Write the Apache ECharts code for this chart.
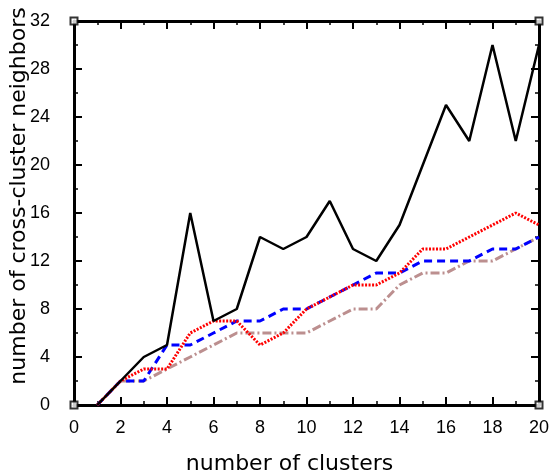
<!DOCTYPE html>
<html>
<head>
<meta charset="utf-8">
<script src="https://cdn.jsdelivr.net/npm/echarts@6/dist/echarts.min.js"></script>
<style>html,body{margin:0;padding:0;background:#fff;}#c{width:551px;height:476px;}</style>
</head>
<body>
<div id="c"></div>
<script>
var xs = [1,2,3,4,5,6,7,8,9,10,11,12,13,14,15,16,17,18,19,20];
var blackVals = [0,2,4,5,16,7,8,14,13,14,17,13,12,15,20,25,22,30,22,30];
var redVals   = [0,2,3,3,6,7,7,5,6,8,9,10,10,11,13,13,14,15,16,15];
var blueVals  = [0,2,2,5,5,6,7,7,8,8,9,10,11,11,12,12,12,13,13,14];
var brownVals = [0,2,2,3,4,5,6,6,6,6,7,8,8,10,11,11,12,12,13,14];
var xTitle = 'number of clusters';
var yTitle = 'number of cross-cluster neighbors';

function pairs(v){ return xs.map(function(x,i){ return [x, v[i]]; }); }

var tickFont = {fontFamily:'Liberation Sans Narrow, Liberation Sans, sans-serif', fontSize:18, color:'#000'};
var chart = echarts.init(document.getElementById('c'));
var axisCommon = {
  axisLine:{show:true, onZero:false, lineStyle:{color:'#000', width:3}},
  axisTick:{show:true, inside:true, length:8, lineStyle:{color:'#000', width:2}},
  minorTick:{show:true, splitNumber:2, length:4, lineStyle:{color:'#000', width:1.5}},
  splitLine:{show:false}
};
chart.setOption({
  animation:false,
  grid:{left:74, right:12, top:21, bottom:71, containLabel:false, outerBoundsMode:'none'},
  xAxis:[
    Object.assign({type:'value', min:0, max:20, interval:2, position:'bottom',
      name:xTitle, nameLocation:'middle', nameGap:48, nameMoveOverlap:false,
      nameTextStyle:{fontFamily:'DejaVu Sans', fontSize:22, color:'#000', padding:[0,34,0,0]},
      axisLabel:Object.assign({margin:14}, tickFont)}, axisCommon),
    Object.assign({type:'value', min:0, max:20, interval:2, position:'top',
      axisLabel:{show:false}}, axisCommon)
  ],
  yAxis:[
    Object.assign({type:'value', min:0, max:32, interval:4, position:'left',
      name:yTitle, nameLocation:'middle', nameGap:44, nameMoveOverlap:false,
      nameTextStyle:{fontFamily:'DejaVu Sans', fontSize:22, color:'#000', padding:[0,0,0,34]},
      axisLabel:Object.assign({margin:24}, tickFont)}, axisCommon),
    Object.assign({type:'value', min:0, max:32, interval:4, position:'right',
      axisLabel:{show:false}}, axisCommon)
  ],
  series:[
    {type:'line', data:pairs(brownVals), symbol:'none', z:2,
      lineStyle:{color:'#bc8f8f', width:3, type:[9,3,2,3]}},
    {type:'line', data:pairs(blueVals), symbol:'none', z:3,
      lineStyle:{color:'#0000ff', width:3, type:[8,5]}},
    {type:'line', data:pairs(redVals), symbol:'none', z:4,
      lineStyle:{color:'#ff0000', width:3, type:[2,1.5]}},
    {type:'line', data:pairs(blackVals), symbol:'none', z:5,
      lineStyle:{color:'#000000', width:2.5}},
    {type:'scatter', data:[[0,0],[20,0],[0,32],[20,32]], symbol:'rect', symbolSize:7, z:10, clip:false,
      itemStyle:{color:'#fff', borderColor:'#000', borderWidth:2}, silent:true}
  ]
});
</script>
</body>
</html>
